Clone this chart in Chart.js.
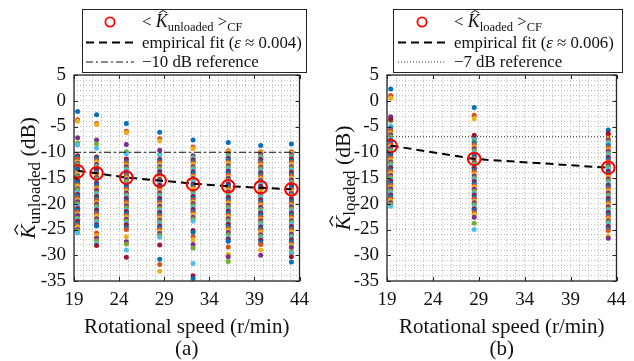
<!DOCTYPE html>
<html>
<head>
<meta charset="utf-8">
<script src="https://cdn.jsdelivr.net/npm/chart.js@4.4.1/dist/chart.umd.min.js"></script>
<style>
html, body { margin: 0; padding: 0; background: #fff; }
#wrap { position: relative; width: 634px; height: 361px; }
.pane { position: absolute; top: 0; width: 317px; height: 361px; }
.warm { font-family: "Liberation Serif"; position: absolute; left: -999px; top: 0; }
</style>
</head>
<body>
<div id="wrap">
  <div class="pane" style="left:0"><canvas id="chartA" width="317" height="361"></canvas></div>
  <div class="pane" style="left:317px"><canvas id="chartB" width="317" height="361"></canvas></div>
</div>
<span class="warm">K <i>K</i></span>
<script>
// rotational speeds (r/min)
const speedsA = [19.4, 21.5, 24.8, 28.5, 32.2, 36.1, 39.7, 43.1];
const speedsB = [19.4, 28.5, 43.1];

// <K>_CF averages and empirical fit (dB)
const meanA = [-13.7, -14.1, -14.9, -15.5, -16.2, -16.6, -16.8, -17.2];
const fitA  = [-13.6, -14.1, -14.9, -15.5, -16.1, -16.6, -16.9, -17.2];
const meanB = [-8.8, -11.3, -13.0];
const fitB  = [-8.7, -11.3, -13.0];

// reference levels (dB)
const refA = -10;
const refB = -7;

// individual estimates, one list per speed
const samplesA = [
  [-2.1, -3.7, -4.0, -7.2, -8.2, -8.6, -10.7, -11.0, -11.3, -11.9, -12.2, -12.4, -12.9, -13.2, -13.4, -13.9, -14.1, -14.6, -14.8, -15.3, -15.5, -15.9, -16.4, -16.6, -17.1, -17.3, -17.8, -18.2, -18.5, -18.9, -19.3, -19.6, -20.0, -20.4, -20.9, -21.2, -21.6, -22.0, -22.3, -22.8, -23.1, -23.4, -23.9, -24.2, -24.5, -25.0, -25.3, -25.7],
  [-2.7, -4.4, -4.6, -7.6, -8.4, -9.2, -10.9, -11.2, -11.6, -11.9, -12.4, -12.7, -13.0, -13.3, -13.8, -14.1, -14.4, -14.9, -15.2, -15.6, -16.0, -16.3, -16.8, -17.1, -17.4, -17.9, -18.2, -18.6, -19.0, -19.3, -19.8, -20.1, -20.5, -20.9, -21.2, -21.7, -22.0, -22.4, -22.9, -23.3, -23.6, -24.1, -24.3, -25.7, -26.2, -26.7, -27.2, -27.7, -28.1],
  [-4.4, -5.9, -6.2, -8.5, -9.9, -10.3, -11.3, -11.8, -12.1, -12.5, -12.8, -13.2, -13.5, -13.9, -14.3, -14.6, -15.0, -15.3, -15.7, -16.1, -16.5, -16.8, -17.2, -17.5, -17.9, -18.3, -18.6, -19.0, -19.4, -19.7, -20.1, -20.4, -20.8, -21.2, -21.5, -21.9, -22.3, -22.6, -23.0, -23.4, -23.8, -24.1, -24.6, -25.0, -26.4, -27.4, -27.8, -29.0, -30.4],
  [-6.1, -7.4, -7.8, -9.6, -10.4, -10.6, -11.4, -11.7, -12.0, -12.4, -12.8, -13.1, -13.5, -13.8, -14.2, -14.6, -15.0, -15.3, -15.7, -16.0, -16.4, -16.8, -17.2, -17.5, -17.9, -18.3, -18.6, -19.0, -19.4, -19.8, -20.2, -20.5, -20.9, -21.3, -21.7, -22.0, -22.4, -22.8, -23.2, -23.5, -23.9, -24.3, -24.6, -25.0, -25.4, -25.8, -26.1, -26.5, -28.0, -30.8, -31.8, -33.1],
  [-7.6, -9.0, -9.3, -10.7, -11.0, -11.2, -11.5, -11.8, -12.1, -12.4, -12.8, -13.1, -13.4, -13.8, -14.1, -14.5, -14.8, -15.1, -15.5, -15.8, -16.2, -16.5, -16.9, -17.2, -17.6, -17.9, -18.3, -18.6, -19.0, -19.3, -19.7, -20.0, -20.4, -20.8, -21.1, -21.5, -21.8, -22.2, -22.6, -23.0, -23.4, -25.2, -25.6, -26.4, -27.0, -27.9, -28.6, -31.6, -34.0, -34.5],
  [-8.1, -9.7, -9.9, -10.3, -10.6, -10.9, -11.2, -11.5, -11.9, -12.2, -12.6, -12.9, -13.3, -13.7, -14.0, -14.4, -14.8, -15.1, -15.5, -15.9, -16.2, -16.6, -17.0, -17.4, -17.7, -18.1, -18.5, -18.8, -19.2, -19.6, -19.9, -20.3, -20.7, -21.1, -21.4, -21.8, -22.2, -22.5, -22.9, -23.3, -23.7, -24.0, -24.4, -24.8, -25.2, -25.6, -26.0, -26.5, -26.9, -27.3, -28.4, -29.8, -30.3, -31.2],
  [-8.7, -9.9, -10.1, -10.4, -10.8, -11.1, -11.4, -11.8, -12.1, -12.5, -12.9, -13.2, -13.6, -14.0, -14.3, -14.7, -15.1, -15.5, -15.8, -16.2, -16.6, -17.0, -17.3, -17.7, -18.1, -18.5, -18.8, -19.2, -19.6, -20.0, -20.3, -20.7, -21.1, -21.5, -21.8, -22.2, -22.6, -23.0, -23.3, -23.7, -24.1, -24.5, -24.8, -25.2, -25.6, -26.0, -26.3, -26.7, -27.1, -27.5, -27.9, -29.0, -30.0],
  [-8.4, -9.9, -10.2, -10.5, -10.8, -11.1, -11.3, -11.7, -12.0, -12.4, -12.8, -13.1, -13.5, -13.9, -14.3, -14.6, -15.0, -15.4, -15.8, -16.1, -16.5, -16.9, -17.3, -17.6, -18.0, -18.4, -18.8, -19.1, -19.5, -19.9, -20.3, -20.6, -21.0, -21.4, -21.8, -22.1, -22.5, -22.9, -23.3, -23.6, -24.0, -24.4, -24.8, -25.1, -25.5, -25.9, -26.3, -26.6, -27.0, -27.4, -27.8, -28.1, -28.5, -29.3, -29.6, -30.3, -31.3]
];
const samplesB = [
  [2.3, 1.0, 0.5, -3.1, -3.9, -4.9, -3.6, -5.4, -5.8, -6.3, -6.6, -7.0, -7.4, -7.7, -8.1, -8.5, -8.9, -9.2, -9.6, -10.0, -10.4, -10.7, -11.1, -11.5, -11.9, -12.2, -12.6, -13.0, -13.4, -13.7, -14.1, -14.5, -14.9, -15.3, -15.6, -16.0, -16.4, -16.8, -17.1, -17.5, -17.9, -18.3, -18.6, -19.0, -19.4, -19.8, -20.1, -20.5],
  [-1.3, -2.8, -3.5, -7.4, -7.9, -7.1, -6.7, -8.2, -8.6, -9.0, -9.3, -9.7, -10.1, -10.5, -10.8, -11.2, -11.6, -12.0, -12.3, -12.7, -13.1, -13.5, -13.8, -14.2, -14.6, -15.0, -15.3, -15.7, -16.1, -16.5, -16.8, -17.2, -17.6, -18.0, -18.3, -18.7, -19.1, -19.5, -19.8, -20.2, -20.6, -21.0, -21.3, -21.7, -22.1, -22.6, -23.8, -25.0],
  [-5.7, -6.6, -7.3, -7.6, -8.0, -8.3, -6.3, -8.7, -9.1, -9.5, -9.8, -10.2, -10.6, -11.0, -11.4, -11.8, -12.1, -12.5, -12.9, -13.3, -13.7, -14.1, -14.4, -14.8, -15.2, -15.6, -16.0, -16.4, -16.7, -17.1, -17.5, -17.9, -18.3, -18.7, -19.0, -19.4, -19.8, -20.2, -20.6, -21.0, -21.3, -21.7, -22.1, -22.5, -22.9, -23.3, -23.6, -24.0, -24.4, -24.8, -25.2, -26.3, -26.7]
];

// axis ticks
const xTickLabels = [19, 24, 29, 34, 39, 44];
const yTickLabels = [5, 0, -5, -10, -15, -20, -25, -30, -35];

const matlabColors = ['#0072BD', '#D95319', '#EDB120', '#7E2F8E', '#77AC30', '#4DBEEE', '#A2142F'];
const SERIF = "'Liberation Serif'";
const AXIS = '#262626';

function drawHat(ctx, cx, top, size) {
  const hw = size * 0.22, hh = size * 0.14;
  ctx.beginPath();
  ctx.moveTo(cx - hw, top);
  ctx.lineTo(cx, top - hh);
  ctx.lineTo(cx + hw, top);
  ctx.lineWidth = Math.max(0.9, size * 0.055);
  ctx.stroke();
}

// draw a row of text pieces (sub-scripts, italic K with hat)
function partsWidth(ctx, parts) {
  let w = 0;
  parts.forEach(p => {
    ctx.font = (p.italic ? 'italic ' : '') + p.size + 'px ' + SERIF;
    w += ctx.measureText(p.t).width;
  });
  return w;
}
function drawParts(ctx, parts, x, y) {
  let cx = x;
  parts.forEach(p => {
    ctx.font = (p.italic ? 'italic ' : '') + p.size + 'px ' + SERIF;
    ctx.fillText(p.t, cx, y + (p.dy || 0));
    const w = ctx.measureText(p.t).width;
    if (p.hat) drawHat(ctx, cx + w * 0.62, y - p.size * 0.78, p.size);
    cx += w;
  });
  return cx;
}

function makeDeco(cfg) {
  return {
    id: 'deco' + cfg.name,
    afterDatasetsDraw(chart) {
      const ctx = chart.ctx, a = chart.chartArea;
      const xs = chart.scales.x, ys = chart.scales.y;
      ctx.save();
      // inward tick marks
      ctx.strokeStyle = AXIS;
      ctx.lineWidth = 1;
      ctx.beginPath();
      xTickLabels.forEach(v => {
        const px = Math.round(xs.getPixelForValue(v)) + 0.5;
        ctx.moveTo(px, a.bottom); ctx.lineTo(px, a.bottom - 4);
        ctx.moveTo(px, a.top); ctx.lineTo(px, a.top + 4);
      });
      yTickLabels.forEach(v => {
        const py = Math.round(ys.getPixelForValue(v)) + 0.5;
        ctx.moveTo(a.left, py); ctx.lineTo(a.left + 4, py);
        ctx.moveTo(a.right, py); ctx.lineTo(a.right - 4, py);
      });
      ctx.stroke();
      // axes box
      ctx.lineWidth = 1.3;
      ctx.strokeRect(a.left, a.top, a.right - a.left, a.bottom - a.top);

      // legend
      const L = cfg.legend;
      ctx.fillStyle = '#fff';
      ctx.fillRect(L.x, L.y, L.w, L.h);
      ctx.lineWidth = 1;
      ctx.strokeStyle = AXIS;
      ctx.strokeRect(L.x + 0.5, L.y + 0.5, L.w, L.h);
      const rows = [L.y + 13, L.y + 33.5, L.y + 52.5];
      // circle sample
      ctx.strokeStyle = '#ff0000';
      ctx.lineWidth = 1.8;
      ctx.beginPath();
      ctx.arc((L.s0 + L.s1) / 2, rows[0], 4.6, 0, Math.PI * 2);
      ctx.stroke();
      // dashed sample
      ctx.strokeStyle = '#000';
      ctx.lineWidth = 2;
      ctx.setLineDash([8, 5]);
      ctx.beginPath(); ctx.moveTo(L.s0, rows[1]); ctx.lineTo(L.s1, rows[1]); ctx.stroke();
      // reference sample
      ctx.lineWidth = cfg.refWidth;
      ctx.setLineDash(cfg.refDash);
      ctx.strokeStyle = cfg.refColor;
      ctx.beginPath(); ctx.moveTo(L.s0, rows[2] + 0.5); ctx.lineTo(L.s1, rows[2] + 0.5); ctx.stroke();
      ctx.setLineDash([]);
      // legend text
      ctx.fillStyle = '#111';
      ctx.strokeStyle = '#111';
      ctx.textBaseline = 'alphabetic';
      ctx.textAlign = 'left';
      drawParts(ctx, [
        { t: '<', size: 16.8 }, { t: ' ', size: 16.8 },
        { t: 'K', size: 18, italic: true, hat: true },
        { t: cfg.sub, size: 12.5, dy: 3.5 },
        { t: ' >', size: 16.8 },
        { t: 'CF', size: 12.5, dy: 3.5 }
      ], L.t, rows[0] + 5);
      drawParts(ctx, [{ t: 'empirical fit (', size: 16.8 }, { t: 'ε', size: 16.8, italic: true }, { t: ' ≈ ' + cfg.eps + ')', size: 16.8 }], L.t, rows[1] + 5.5);
      drawParts(ctx, [{ t: cfg.refText, size: 16.8 }], L.t, rows[2] + 5.5);

      // y axis title, rotated
      const yParts = [
        { t: 'K', size: 22, italic: true, hat: true },
        { t: cfg.sub, size: 17, dy: 5 },
        { t: ' (dB)', size: 21.5 }
      ];
      ctx.save();
      ctx.translate(cfg.yTitleX, (a.top + a.bottom) / 2);
      ctx.rotate(-Math.PI / 2);
      const w = partsWidth(ctx, yParts);
      drawParts(ctx, yParts, -w / 2, 6);
      ctx.restore();
      ctx.restore();
    }
  };
}

function buildPanel(canvasId, cfg) {
  const points = [], colors = [];
  cfg.samples.forEach((col, i) => {
    col.forEach((v, j) => {
      points.push({ x: cfg.speeds[i], y: v });
      colors.push(matlabColors[j % matlabColors.length]);
    });
  });
  const toXY = arr => arr.map((v, i) => ({ x: cfg.speeds[i], y: v }));

  return new Chart(document.getElementById(canvasId), {
    type: 'scatter',
    data: {
      datasets: [
        {
          label: 'mean', data: toXY(cfg.mean), order: 0,
          pointRadius: 6.3, pointBorderWidth: 2, pointBorderColor: '#ff0000',
          pointBackgroundColor: 'rgba(0,0,0,0)', showLine: false
        },
        {
          label: 'fit', data: toXY(cfg.fit), order: 1, showLine: true,
          borderColor: '#000', borderWidth: 2, borderDash: [8, 5], pointRadius: 0, fill: false
        },
        {
          label: 'ref', data: [{ x: 19, y: cfg.ref }, { x: 44, y: cfg.ref }], order: 2, showLine: true,
          borderColor: cfg.refColor, borderWidth: cfg.refWidth, borderDash: cfg.refDash, pointRadius: 0, fill: false
        },
        {
          label: 'samples', data: points, order: 3,
          pointRadius: 2.5, pointBorderWidth: 0,
          pointBackgroundColor: colors, pointBorderColor: colors
        }
      ]
    },
    options: {
      responsive: false,
      animation: false,
      layout: { padding: { left: 0, right: cfg.padRight, top: 75, bottom: 0 } },
      plugins: { legend: { display: false }, tooltip: { enabled: false } },
      scales: {
        x: {
          type: 'linear', min: 19, max: 44,
          ticks: {
            stepSize: 1, autoSkip: false, maxRotation: 0, padding: 8, color: '#111',
            font: { family: SERIF, size: 19 },
            callback: v => (Math.round(v) - 19) % 5 === 0 ? String(Math.round(v)) : ''
          },
          grid: { color: '#c2c2c2', lineWidth: 1, drawTicks: false },
          border: { display: false, dash: [1, 2] },
          title: {
            display: true, text: ['Rotational speed (r/min)', cfg.tag], color: '#111',
            font: { family: SERIF, size: 21, lineHeight: 1.05 }, padding: { top: 0, bottom: 0 }
          },
          afterFit: s => { s.height = 80; }
        },
        y: {
          type: 'linear', min: -35, max: 5,
          ticks: {
            stepSize: 1, autoSkip: false, padding: 8, color: '#111',
            font: { family: SERIF, size: 19 },
            callback: v => Math.round(v) % 5 === 0 ? String(Math.round(v)) : ''
          },
          grid: { color: '#c2c2c2', lineWidth: 1, drawTicks: false },
          border: { display: false, dash: [1, 2] },
          afterFit: s => { s.width = cfg.yWidth; }
        }
      }
    },
    plugins: [makeDeco(cfg)]
  });
}

function drawAll() {
  buildPanel('chartA', {
    name: 'A', speeds: speedsA, samples: samplesA, mean: meanA, fit: fitA,
    ref: refA, refText: '\u221210 dB reference', refDash: [7, 3, 2, 3], refColor: '#111', refWidth: 1.2,
    sub: 'unloaded', eps: '0.004', tag: '(a)',
    yWidth: 74, padRight: 9, yTitleX: 29,
    legend: { x: 82, y: 9, w: 224, h: 63, s0: 86, s1: 134, t: 142 }
  });

  buildPanel('chartB', {
    name: 'B', speeds: speedsB, samples: samplesB, mean: meanB, fit: fitB,
    ref: refB, refText: '\u22127 dB reference', refDash: [1, 2], refColor: '#333', refWidth: 1.1,
    sub: 'loaded', eps: '0.006', tag: '(b)',
    yWidth: 70, padRight: 12, yTitleX: 27,
    legend: { x: 76, y: 9, w: 229, h: 63, s0: 81, s1: 129, t: 137 }
  });
}

Promise.all([
  document.fonts.load("16px 'Liberation Serif'"),
  document.fonts.load("italic 16px 'Liberation Serif'")
]).then(drawAll, drawAll);
</script>
</body>
</html>
